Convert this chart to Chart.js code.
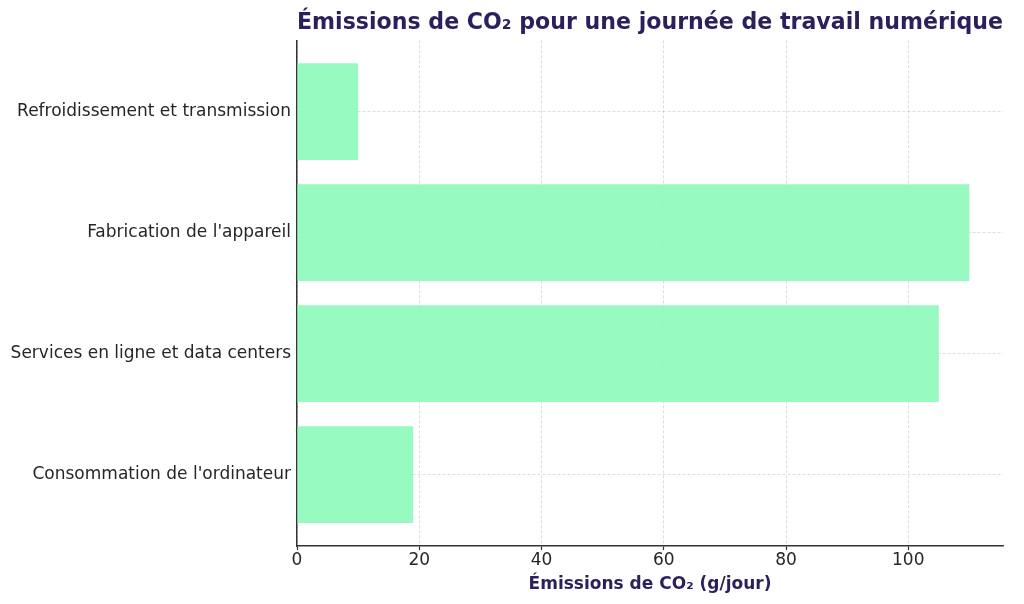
<!DOCTYPE html>
<html>
<head>
<meta charset="utf-8">
<script src="https://cdn.jsdelivr.net/npm/chart.js@4.4.1/dist/chart.umd.min.js"></script>
<style>
  html, body { margin: 0; padding: 0; background: #fff; }
</style>
</head>
<body>
<canvas id="chart" width="1024" height="604"></canvas>
<script>
// data
const categories = [
  "Refroidissement et transmission",
  "Fabrication de l'appareil",
  "Services en ligne et data centers",
  "Consommation de l'ordinateur"
];
const emissions = [10, 110, 105, 19];
const xTicks = [0, 20, 40, 60, 80, 100];
const xMax = 115.5;

const TITLE_COLOR = '#2c1f5c';
const TEXT_COLOR = '#262626';
const AXIS_COLOR = '#333333';
const GRID_COLOR = 'rgba(0,0,0,0.17)';
const FONT = "'DejaVu Sans', sans-serif";

const points = emissions.map((v, i) => ({ x: v, y: i }));

new Chart(document.getElementById('chart').getContext('2d'), {
  type: 'bar',
  data: {
    datasets: [{
      data: points,
      backgroundColor: 'rgba(140,250,185,0.9)',
      borderWidth: 0,
      barPercentage: 0.8,
      categoryPercentage: 1
    }]
  },
  options: {
    indexAxis: 'y',
    responsive: false,
    animation: false,
    layout: { padding: { right: 21, left: 0, top: 0, bottom: 0 } },
    plugins: {
      legend: { display: false },
      tooltip: { enabled: false },
      title: {
        display: true,
        text: 'Émissions de CO₂ pour une journée de travail numérique',
        color: TITLE_COLOR,
        fullSize: false,
        font: { family: FONT, size: 23.6, weight: 'bold' },
        padding: { top: 9, bottom: 3 }
      }
    },
    scales: {
      x: {
        type: 'linear',
        min: 0,
        max: xMax,
        afterBuildTicks: s => { s.ticks = xTicks.map(v => ({ value: v })); },
        afterFit: s => { s.height = 58; },
        border: { display: true, color: AXIS_COLOR, width: 1.5, dash: [3, 2] },
        grid: {
          color: GRID_COLOR, lineWidth: 0.8,
          tickColor: AXIS_COLOR, tickLength: 4, tickWidth: 1.2, tickBorderDash: []
        },
        ticks: { color: TEXT_COLOR, padding: 0, font: { family: FONT, size: 17 } },
        title: {
          display: true,
          text: 'Émissions de CO₂ (g/jour)',
          color: TITLE_COLOR,
          font: { family: FONT, size: 17, weight: 'bold' },
          padding: { top: 4, bottom: 9 }
        }
      },
      y: {
        type: 'linear',
        reverse: true,
        offset: false,
        min: -0.59,
        max: 3.59,
        afterBuildTicks: s => { s.ticks = categories.map((c, i) => ({ value: i })); },
        afterFit: s => { s.width = 297; },
        border: { display: true, color: AXIS_COLOR, width: 1.5, dash: [3, 2] },
        grid: { color: GRID_COLOR, lineWidth: 0.8, drawTicks: false, offset: false },
        ticks: {
          color: TEXT_COLOR,
          padding: 6,
          font: { family: FONT, size: 17 },
          callback: v => categories[v]
        }
      }
    }
  }
});
</script>
</body>
</html>
